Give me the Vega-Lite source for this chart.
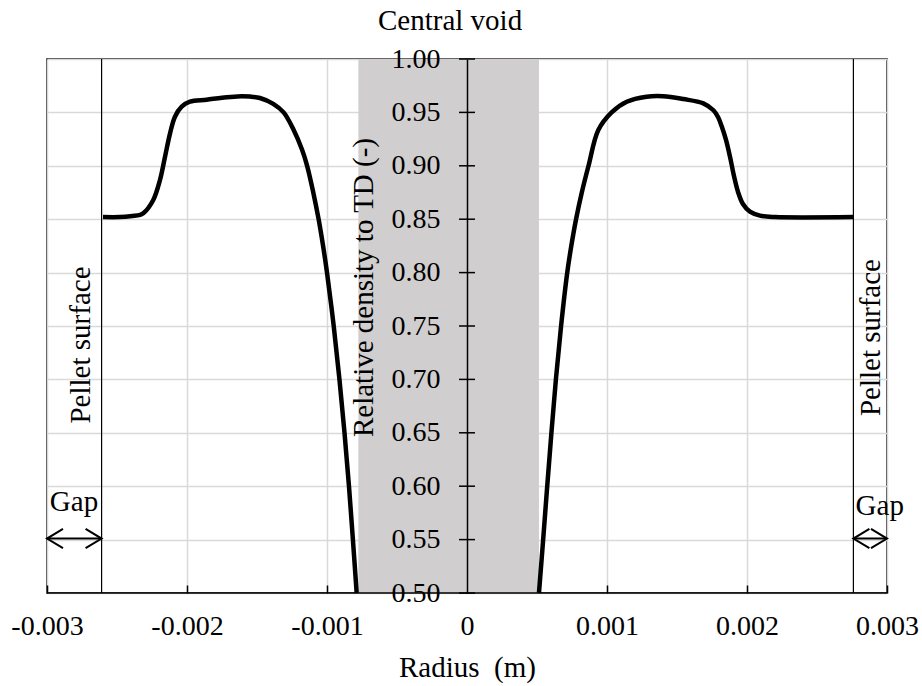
{
  "$schema": "https://vega.github.io/schema/vega-lite/v6.json",
  "width": 840,
  "height": 534,
  "autosize": {"type": "none"},
  "padding": {"left": 47, "top": 59, "right": 35, "bottom": 93},
  "background": "white",
  "config": {
    "font": "Liberation Serif",
    "view": {"stroke": "black", "strokeWidth": 1.5},
    "text": {"font": "Liberation Serif"},
    "axis": {"labelFont": "Liberation Serif", "titleFont": "Liberation Serif", "labelColor": "black", "titleColor": "black", "titleFontWeight": "normal", "gridColor": "#d9d9d9", "gridWidth": 1.5, "domainColor": "black", "tickColor": "black"}
  },
  "datasets": {
    "void": [{"r": -0.000776, "r2": 0.000514, "rho": 0.5, "rho2": 1.0}],
    "surface": [{"r": -0.00261}, {"r": 0.00276}],
    "baseline": [{"rho": 0.5}],
    "arrows": [{"r": -0.003, "r2": -0.00261, "rho": 0.551}, {"r": 0.00276, "r2": 0.003, "rho": 0.551}],
    "heads": [
      {"r": -0.003, "rho": 0.551, "dir": "left"},
      {"r": -0.00261, "rho": 0.551, "dir": "right"},
      {"r": 0.00276, "rho": 0.551, "dir": "left"},
      {"r": 0.003, "rho": 0.551, "dir": "right"}
    ],
    "curve": [
      {"side": "L", "r": -0.00260, "rho": 0.852},
      {"side": "L", "r": -0.00248, "rho": 0.852},
      {"side": "L", "r": -0.00239, "rho": 0.853},
      {"side": "L", "r": -0.002336, "rho": 0.854},
      {"side": "L", "r": -0.002312, "rho": 0.8555},
      {"side": "L", "r": -0.002241, "rho": 0.868},
      {"side": "L", "r": -0.002193, "rho": 0.8867},
      {"side": "L", "r": -0.002157, "rho": 0.9085},
      {"side": "L", "r": -0.002121, "rho": 0.9304},
      {"side": "L", "r": -0.002086, "rho": 0.946},
      {"side": "L", "r": -0.002038, "rho": 0.9553},
      {"side": "L", "r": -0.001979, "rho": 0.960},
      {"side": "L", "r": -0.00186, "rho": 0.9618},
      {"side": "L", "r": -0.00175, "rho": 0.9638},
      {"side": "L", "r": -0.00164, "rho": 0.965},
      {"side": "L", "r": -0.00155, "rho": 0.9648},
      {"side": "L", "r": -0.001479, "rho": 0.9635},
      {"side": "L", "r": -0.001384, "rho": 0.958},
      {"side": "L", "r": -0.00131, "rho": 0.950},
      {"side": "L", "r": -0.001238, "rho": 0.9335},
      {"side": "L", "r": -0.001178, "rho": 0.915},
      {"side": "L", "r": -0.001142, "rho": 0.900},
      {"side": "L", "r": -0.001098, "rho": 0.875},
      {"side": "L", "r": -0.00106, "rho": 0.850},
      {"side": "L", "r": -0.001028, "rho": 0.825},
      {"side": "L", "r": -0.001000, "rho": 0.800},
      {"side": "L", "r": -0.000952, "rho": 0.750},
      {"side": "L", "r": -0.000911, "rho": 0.700},
      {"side": "L", "r": -0.000875, "rho": 0.650},
      {"side": "L", "r": -0.000843, "rho": 0.600},
      {"side": "L", "r": -0.000815, "rho": 0.550},
      {"side": "L", "r": -0.000788, "rho": 0.500},
      {"side": "R", "r": 0.000514, "rho": 0.500},
      {"side": "R", "r": 0.000544, "rho": 0.550},
      {"side": "R", "r": 0.000573, "rho": 0.600},
      {"side": "R", "r": 0.000603, "rho": 0.650},
      {"side": "R", "r": 0.000635, "rho": 0.700},
      {"side": "R", "r": 0.000672, "rho": 0.750},
      {"side": "R", "r": 0.000716, "rho": 0.800},
      {"side": "R", "r": 0.000745, "rho": 0.825},
      {"side": "R", "r": 0.000779, "rho": 0.850},
      {"side": "R", "r": 0.00082, "rho": 0.875},
      {"side": "R", "r": 0.000868, "rho": 0.900},
      {"side": "R", "r": 0.000938, "rho": 0.9335},
      {"side": "R", "r": 0.001033, "rho": 0.950},
      {"side": "R", "r": 0.001141, "rho": 0.960},
      {"side": "R", "r": 0.001283, "rho": 0.9647},
      {"side": "R", "r": 0.0014, "rho": 0.9652},
      {"side": "R", "r": 0.001545, "rho": 0.9625},
      {"side": "R", "r": 0.001688, "rho": 0.9585},
      {"side": "R", "r": 0.00176, "rho": 0.952},
      {"side": "R", "r": 0.001793, "rho": 0.9457},
      {"side": "R", "r": 0.001821, "rho": 0.9363},
      {"side": "R", "r": 0.00185, "rho": 0.9242},
      {"side": "R", "r": 0.001879, "rho": 0.9082},
      {"side": "R", "r": 0.001907, "rho": 0.8904},
      {"side": "R", "r": 0.001936, "rho": 0.8755},
      {"side": "R", "r": 0.001971, "rho": 0.8642},
      {"side": "R", "r": 0.002021, "rho": 0.857},
      {"side": "R", "r": 0.002093, "rho": 0.8533},
      {"side": "R", "r": 0.0022, "rho": 0.852},
      {"side": "R", "r": 0.00276, "rho": 0.852}
    ],
    "yticks": [
      {"r": 0, "rho": 0.5}, {"r": 0, "rho": 0.55}, {"r": 0, "rho": 0.6}, {"r": 0, "rho": 0.65},
      {"r": 0, "rho": 0.7}, {"r": 0, "rho": 0.75}, {"r": 0, "rho": 0.8}, {"r": 0, "rho": 0.85},
      {"r": 0, "rho": 0.9}, {"r": 0, "rho": 0.95}, {"r": 0, "rho": 1.0}
    ],
    "vlabels": [
      {"text": "Pellet surface", "r": -0.002693, "rho": 0.7322},
      {"text": "Pellet surface", "r": 0.00295, "rho": 0.7392}
    ],
    "hlabels": [
      {"text": "Central void", "r": -0.000121, "rho": 1.0272},
      {"text": "Gap", "r": -0.002807, "rho": 0.5768},
      {"text": "Gap", "r": 0.002948, "rho": 0.573}
    ]
  },
  "resolve": {"axis": {"y": "independent"}},
  "layer": [
    {
      "data": {"name": "void"},
      "mark": {"type": "rect", "color": "#d0cece"},
      "encoding": {
        "x": {"field": "r", "type": "quantitative", "scale": {"domain": [-0.003, 0.003], "nice": false, "zero": false}},
        "x2": {"field": "r2"},
        "y": {"field": "rho", "type": "quantitative", "scale": {"domain": [0.5, 1.0], "nice": false, "zero": false}, "axis": null},
        "y2": {"field": "rho2"}
      }
    },
    {
      "data": {"name": "surface"},
      "mark": {"type": "rule", "color": "black", "strokeWidth": 1.2},
      "encoding": {
        "x": {"field": "r", "type": "quantitative", "scale": {"domain": [-0.003, 0.003], "nice": false, "zero": false}}
      }
    },
    {
      "data": {"name": "baseline"},
      "mark": {"type": "rule", "color": "black", "strokeWidth": 1.5},
      "encoding": {
        "y": {"field": "rho", "type": "quantitative", "scale": {"domain": [0.5, 1.0], "nice": false, "zero": false}, "axis": null}
      }
    },
    {
      "data": {"name": "arrows"},
      "mark": {"type": "rule", "color": "black", "strokeWidth": 2},
      "encoding": {
        "x": {"field": "r", "type": "quantitative", "scale": {"domain": [-0.003, 0.003], "nice": false, "zero": false}},
        "x2": {"field": "r2"},
        "y": {"field": "rho", "type": "quantitative", "scale": {"domain": [0.5, 1.0], "nice": false, "zero": false}, "axis": null}
      }
    },
    {
      "data": {"name": "heads"},
      "mark": {"type": "point", "filled": false, "color": "black", "strokeWidth": 2, "opacity": 1, "size": 1024},
      "encoding": {
        "x": {"field": "r", "type": "quantitative", "scale": {"domain": [-0.003, 0.003], "nice": false, "zero": false}},
        "y": {"field": "rho", "type": "quantitative", "scale": {"domain": [0.5, 1.0], "nice": false, "zero": false}, "axis": null},
        "shape": {"field": "dir", "type": "nominal", "scale": {"domain": ["left", "right"], "range": ["M1,-0.6L0,0L1,0.6", "M-1,-0.6L0,0L-1,0.6"]}, "legend": null}
      }
    },
    {
      "data": {"name": "curve"},
      "mark": {"type": "line", "color": "black", "strokeWidth": 4.5, "interpolate": "catmull-rom"},
      "encoding": {
        "x": {
          "field": "r", "type": "quantitative",
          "scale": {"domain": [-0.003, 0.003], "nice": false, "zero": false},
          "axis": {
            "orient": "bottom",
            "values": [-0.003, -0.002, -0.001, 0, 0.001, 0.002, 0.003],
            "labelExpr": "datum.value == 0 ? '0' : (datum.value < 0 ? '-' : '') + format(abs(datum.value), '.3f')",
            "grid": true, "domain": false, "ticks": true, "tickSize": -8, "tickWidth": 1.5,
            "labelFontSize": 28, "labelBaseline": "alphabetic", "labelPadding": 49, "labelFlush": false, "labelOverlap": false,
            "title": "Radius \u00a0(m)", "titleFontSize": 29, "titleBaseline": "alphabetic", "titleY": 83
          }
        },
        "y": {
          "field": "rho", "type": "quantitative",
          "scale": {"domain": [0.5, 1.0], "nice": false, "zero": false},
          "axis": {
            "orient": "left",
            "values": [0.5, 0.55, 0.6, 0.65, 0.7, 0.75, 0.8, 0.85, 0.9, 0.95, 1.0],
            "grid": true, "labels": false, "domain": false, "ticks": false, "title": null, "zindex": 0
          }
        },
        "detail": {"field": "side", "type": "nominal"}
      }
    },
    {
      "data": {"name": "yticks"},
      "mark": {"type": "tick", "orient": "horizontal", "color": "black", "size": 16, "thickness": 1.5, "opacity": 1},
      "encoding": {
        "x": {"field": "r", "type": "quantitative", "scale": {"domain": [-0.003, 0.003], "nice": false, "zero": false}},
        "y": {
          "field": "rho", "type": "quantitative",
          "scale": {"domain": [0.5, 1.0], "nice": false, "zero": false},
          "axis": {
            "orient": "left", "offset": -420,
            "values": [0.5, 0.55, 0.6, 0.65, 0.7, 0.75, 0.8, 0.85, 0.9, 0.95, 1.0],
            "format": ".2f",
            "grid": false, "domain": true, "domainWidth": 1.5, "ticks": false,
            "labelFontSize": 28, "labelPadding": 27, "labelFlush": false, "labelOverlap": false,
            "title": "Relative density to TD (-)", "titleFontSize": 29, "titleBaseline": "alphabetic",
            "titleX": -95, "titleY": 228, "titleAngle": 270,
            "zindex": 1
          }
        }
      }
    },
    {
      "data": {"name": "vlabels"},
      "mark": {"type": "text", "angle": 270, "font": "Liberation Serif", "fontSize": 29, "align": "center", "baseline": "alphabetic", "color": "black"},
      "encoding": {
        "x": {"field": "r", "type": "quantitative", "scale": {"domain": [-0.003, 0.003], "nice": false, "zero": false}},
        "y": {"field": "rho", "type": "quantitative", "scale": {"domain": [0.5, 1.0], "nice": false, "zero": false}, "axis": null},
        "text": {"field": "text"}
      }
    },
    {
      "data": {"name": "hlabels"},
      "mark": {"type": "text", "font": "Liberation Serif", "fontSize": 29, "align": "center", "baseline": "alphabetic", "color": "black"},
      "encoding": {
        "x": {"field": "r", "type": "quantitative", "scale": {"domain": [-0.003, 0.003], "nice": false, "zero": false}},
        "y": {"field": "rho", "type": "quantitative", "scale": {"domain": [0.5, 1.0], "nice": false, "zero": false}, "axis": null},
        "text": {"field": "text"}
      }
    }
  ]
}
